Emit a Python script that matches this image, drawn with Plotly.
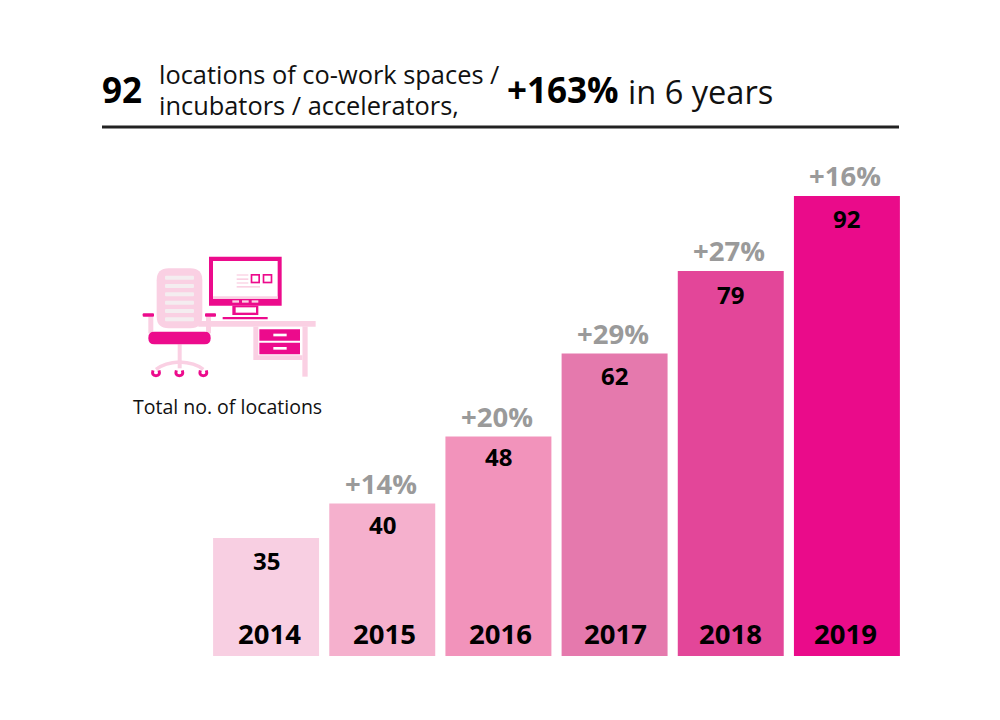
import plotly.graph_objects as go

years = ["2014", "2015", "2016", "2017", "2018", "2019"]
locations = [35, 40, 48, 62, 79, 92]
growth = ["", "+14%", "+20%", "+29%", "+27%", "+16%"]
# the bars in the source are not proportional to their labels,
# so these are the drawn heights (tallest bar = 92)
bar_heights = [23.6, 30.5, 43.9, 60.5, 77.0, 92.0]
bar_colors = ["#F8CFE2", "#F5B0CD", "#F293BB", "#E579AD", "#E34699", "#EA0B8A"]

W, H = 1000, 720
LIGHT = "#FAD0E3"
DARK = "#EC0B8C"
FONT = "Open Sans"

# the labels are not quite centred on the bars in the source
year_nudge = [3, 2, 2, 1, 0, -1]
value_nudge = [-22, -21, -20, -22, -23, -22]


def px(x):
    return x / W


def py(y):
    return 1 - y / H


def label(x, y, text, size, color="#000000", anchor="left"):
    return dict(xref="paper", yref="paper", x=px(x), y=py(y), text=text, showarrow=False,
                xanchor=anchor, yanchor="middle", borderpad=0,
                font=dict(family=FONT, size=size, color=color))


def bar_label(i, y, shift, text, size, color="#000000", xshift=0):
    return dict(xref="x", yref="y", x=i, y=y, yanchor="middle", yshift=shift, xshift=xshift,
                text=f"<b>{text}</b>", showarrow=False, font=dict(family=FONT, size=size, color=color))


# icon coordinates are taken from a 3x crop with its corner at (130, 250)
def box(x0, y0, x1, y1, color):
    return dict(type="rect", xref="paper", yref="paper", layer="above", line_width=0, fillcolor=color,
                x0=px(130 + x0 / 3), x1=px(130 + x1 / 3), y0=py(250 + y0 / 3), y1=py(250 + y1 / 3))


def path_shape(points, fill=None, line=None, width=0):
    d = ""
    for cmd, *pts in points:
        d += cmd
        d += " ".join(f"{px(130 + a / 3):.5f},{py(250 + b / 3):.5f}" for a, b in pts) + " "
    return dict(type="path", xref="paper", yref="paper", layer="above", path=d,
                fillcolor=fill if fill else "rgba(0,0,0,0)",
                line=dict(color=line if line else "rgba(0,0,0,0)", width=width))


def rounded(x0, y0, x1, y1, r, color):
    return path_shape([("M", (x0 + r, y0)), ("L", (x1 - r, y0)), ("Q", (x1, y0), (x1, y0 + r)),
                       ("L", (x1, y1 - r)), ("Q", (x1, y1), (x1 - r, y1)), ("L", (x0 + r, y1)),
                       ("Q", (x0, y1), (x0, y1 - r)), ("L", (x0, y0 + r)), ("Q", (x0, y0), (x0 + r, y0)),
                       ("Z",)], fill=color)


def ring(cx, cy, color):
    # open caster wheel
    return path_shape([("M", (cx - 9, cy - 6)), ("Q", (cx - 14, cy + 10), (cx, cy + 10)),
                       ("Q", (cx + 14, cy + 10), (cx + 9, cy - 6))], line=color, width=3)


icon = [
    # desk
    box(205, 213, 557, 230, LIGHT),
    box(517, 230, 533, 380, LIGHT),
    box(370, 230, 517, 330, LIGHT),
    box(385, 230, 517, 316, "#FFFFFF"),
    box(388, 238, 510, 272, DARK),
    box(388, 278, 510, 313, DARK),
    box(430, 251, 470, 259, "#FFFFFF"),
    box(430, 291, 470, 299, "#FFFFFF"),
    # monitor
    box(237, 20, 455, 167, DARK),
    box(249, 33, 443, 146, "#FFFFFF"),
    box(249, 139, 443, 146, LIGHT),
    box(307, 151, 327, 158, LIGHT),
    box(336, 151, 356, 158, LIGHT),
    box(365, 151, 385, 158, LIGHT),
    box(307, 167, 385, 195, DARK),
    box(317, 172, 378, 188, "#FFFFFF"),
    box(278, 201, 413, 208, DARK),
    box(320, 73, 355, 77, LIGHT),
    box(320, 85, 355, 90, LIGHT),
    box(320, 97, 355, 101, LIGHT),
    box(320, 108, 390, 113, LIGHT),
    box(362, 72, 390, 100, DARK),
    box(367, 77, 385, 95, "#FFFFFF"),
    box(398, 72, 427, 100, DARK),
    box(403, 77, 422, 95, "#FFFFFF"),
    # chair
    box(55, 200, 70, 250, LIGHT),
    box(228, 200, 243, 250, LIGHT),
    rounded(80, 55, 217, 235, 36, LIGHT),
    rounded(38, 190, 72, 200, 3, DARK),
    rounded(225, 190, 258, 200, 3, DARK),
    box(143, 283, 155, 355, LIGHT),
    path_shape([("M", (78, 358)), ("Q", (105, 338), (148, 336)), ("Q", (195, 338), (220, 358))],
               line=LIGHT, width=3.5),
    rounded(55, 245, 242, 283, 18, DARK),
    ring(78, 367, DARK),
    ring(148, 367, DARK),
    ring(220, 367, DARK),
]
for slat_y in [83, 108, 133, 158, 183, 208]:
    icon.append(rounded(105, slat_y - 6, 192, slat_y + 6, 3, "#F4EDF0"))

fig = go.Figure(go.Bar(x=years, y=bar_heights, marker=dict(color=bar_colors, line_width=0), hoverinfo="skip"))

notes = [
    label(101, 89, "<b>92</b>", 35),
    label(158, 74, "locations of co-work spaces /", 25.4, color="#111111"),
    label(158, 105, "incubators / accelerators,", 25.4, color="#111111"),
    label(506, 89.5, "<b>+163%</b>", 35),
    label(627, 91, "in 6 years", 32.6, color="#111111"),
    label(132, 406, "Total no. of locations", 19.5, color="#111111"),
]
for i, (year, n, g, h) in enumerate(zip(years, locations, growth, bar_heights)):
    notes.append(bar_label(i, 0, 23, year, 27.5, xshift=year_nudge[i]))
    notes.append(bar_label(i, h, value_nudge[i], n, 24))
    if g:
        notes.append(bar_label(i, h, 20.5, g, 27.5, color="#9A9A9A", xshift=-1.5))

rule = dict(type="line", xref="paper", yref="paper", x0=px(102), x1=px(899), y0=py(127), y1=py(127),
            line=dict(color="#222222", width=3))

fig.update_layout(
    width=W, height=H, margin=dict(l=0, r=0, t=0, b=0), paper_bgcolor="#FFFFFF", plot_bgcolor="#FFFFFF",
    showlegend=False, bargap=10.2 / 116.2, font=dict(family=FONT),
    annotations=notes, shapes=[rule] + icon,
    xaxis=dict(type="category", domain=[px(208), px(905)], range=[-0.5, 5.5], showgrid=False,
               showticklabels=False, ticks="", showline=False, zeroline=False, fixedrange=True),
    yaxis=dict(domain=[py(656), py(156)], range=[0, 100], showgrid=False, showticklabels=False,
               ticks="", showline=False, zeroline=False, fixedrange=True),
)
fig.write_html("out.html", config={"displayModeBar": False}, post_script="document.body.style.margin = '0';")
